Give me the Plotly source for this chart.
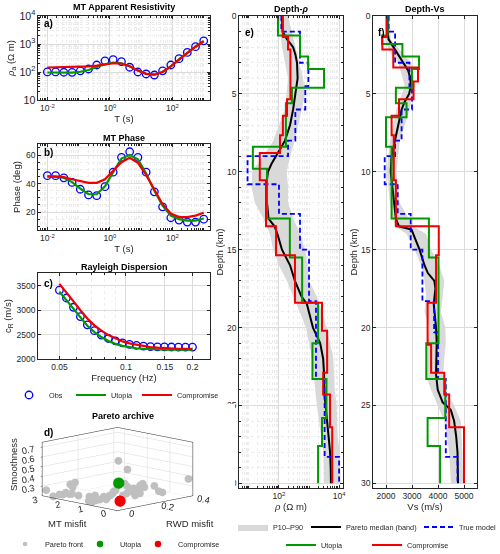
import math
import plotly.graph_objects as go

# ---------------- data ----------------
period_s = [0.01, 0.0183, 0.0336, 0.0616, 0.113, 0.207, 0.379, 0.695, 1.27, 2.34,
            4.28, 7.85, 14.4, 26.4, 48.3, 88.6, 162, 298, 546, 1000]
rho_obs = [101, 101, 98, 97, 110, 128, 178, 250, 275, 235,
           148, 100, 85, 78, 110, 178, 300, 500, 800, 1300]
rho_utopia = [96, 95, 94, 95, 102, 118, 150, 190, 215, 205,
              160, 112, 86, 80, 100, 160, 285, 480, 800, 1250]
rho_comp = [145, 147, 150, 152, 155, 160, 168, 185, 205, 200,
            160, 112, 86, 80, 100, 160, 285, 480, 800, 1250]

phase_obs = [45.5, 45.5, 44, 40.8, 36, 32, 31.5, 37.8, 48, 58.4,
             62.3, 58.4, 48, 34.2, 23.7, 16, 14.4, 13, 13, 15]
phase_utopia = [45, 45, 44, 41, 36.5, 32.5, 32.5, 38, 48, 57.5,
                60, 57, 47, 35, 24.5, 17.5, 15, 14, 14, 15.5]
phase_comp = [45, 45, 44.5, 43, 41.5, 40.5, 40.5, 43, 49, 55,
              58, 54.5, 46, 35.5, 25.5, 19, 16.5, 16.5, 17.5, 19.5]

freq_hz = [0.05, 0.0538, 0.0579, 0.0622, 0.0669, 0.0720, 0.0774, 0.0833, 0.0896, 0.0964,
           0.1037, 0.1115, 0.1200, 0.1291, 0.1388, 0.1493, 0.1606, 0.1728, 0.1859, 0.2]
cr_obs = [3410, 3250, 3060, 2870, 2700, 2580, 2490, 2420, 2370, 2330,
          2300, 2280, 2265, 2255, 2250, 2248, 2246, 2245, 2245, 2245]
cr_utopia = [3380, 3200, 3020, 2840, 2680, 2550, 2450, 2370, 2310, 2270,
             2240, 2220, 2210, 2200, 2195, 2192, 2190, 2190, 2190, 2190]
cr_comp = [3540, 3370, 3180, 3000, 2830, 2690, 2580, 2490, 2420, 2360,
           2320, 2290, 2265, 2245, 2232, 2222, 2215, 2210, 2208, 2207]

# Pareto archive (MT misfit, RWD misfit, smoothness)
pareto_mt = [3.2, 2.9, 2.7, 2.55, 2.35, 2.23, 2.02, 2.23, 2.1, 1.5, 1.4, 1.3, 1.38, 1.25,
             1.09, 1.0, 0.97, 0.85, 0.69, 0.61, 0.49, 0.40, 0.24, 2.5, 2.2, 1.55, 1.35,
             0.12, 0.04, 0.16, 0.2, 0.12, 0.08, 0.08, 0.12, 0.08, 0.04, 0.04, 0.04, 0.08,
             0.08, 0.02, 0.04, 0.12, 0.08, 0.08, 0.04]
pareto_rwd = [0.01, 0.01, 0.02, 0.02, 0.03, 0.02, 0.02, 0.03, 0.05, 0.03, 0.03, 0.03, 0.05, 0.04,
              0.04, 0.05, 0.06, 0.06, 0.05, 0.05, 0.04, 0.04, 0.03, 0.03, 0.03, 0.04, 0.03,
              0.02, 0.06, 0.06, 0.08, 0.08, 0.06, 0.04, 0.09, 0.10, 0.11, 0.12, 0.13, 0.15,
              0.16, 0.10, 0.13, 0.22, 0.24, 0.26, 0.40]
pareto_smooth = [0.26, 0.21, 0.235, 0.24, 0.25, 0.36, 0.39, 0.26, 0.24, 0.22, 0.22, 0.225, 0.275, 0.235,
                 0.25, 0.28, 0.25, 0.29, 0.31, 0.33, 0.36, 0.375, 0.43, 0.26, 0.33, 0.26, 0.22,
                 0.70, 0.60, 0.45, 0.41, 0.37, 0.35, 0.34, 0.36, 0.39, 0.35, 0.38, 0.41, 0.42,
                 0.38, 0.32, 0.33, 0.37, 0.31, 0.29, 0.38]
utopia_pt = [0.03, 0.01, 0.48]   # MT, RWD, smoothness
comp_pt = [0.05, 0.02, 0.29]

# Depth profiles
depth_bottom = 30.0
true_top = [0, 1.0, 3.0, 4.5, 6.0, 8.0, 9.0, 10.8, 12.7, 15.0, 18.3, 20.3, 23.3, 28.3]
true_rho = [120, 500, 950, 750, 350, 200, 9, 100, 500, 1000, 1700, 1700, 3300, 10000]
true_vs = [2100, 2350, 2900, 3000, 2600, 2350, 1950, 2450, 2950, 3400, 3850, 4000, 4300, 4750]

utopia_top = [0, 1.25, 1.8, 2.6, 3.4, 4.6, 5.6, 6.5, 8.4, 9.8, 13.0, 15.5, 18.4, 21.0, 23.3, 25.8, 27.6]
utopia_rho = [93, 500, 500, 930, 3150, 270, 170, 170, 13.5, 40, 230, 590, 2000, 1300, 3800, 2700, 2000]
utopia_vs = [2060, 1850, 2630, 3270, 3000, 2380, 2790, 2000, 2215, 2215, 3650, 4020, 4020, 3550, 4280, 3600, 4080]

comp_top = [0, 1.35, 2.15, 3.3, 4.2, 5.35, 6.4, 7.65, 8.8, 10.55, 13.5, 15.35, 18.4, 20.2, 21.1, 22.9, 24.3, 26.4]
comp_rho = [135, 200, 240, 240, 240, 185, 135, 108, 23, 37, 80, 340, 2700, 4000, 4000, 2950, 5000, 5900]
comp_vs = [2025, 1860, 2280, 3230, 3060, 2500, 2215, 2300, 2300, 2380, 4030, 3925, 3600, 3600, 3735, 4240, 4430, 5000]

rho_med_depth = [0, 0.5, 1.0, 1.5, 2.0, 2.5, 3, 4, 5, 6, 7, 8, 8.5, 9, 9.5, 10, 11, 12, 13, 13.5,
                 14, 15, 16, 17, 18, 18.5, 19, 20, 21, 22, 23, 24, 25, 26, 27, 28, 29, 30]
rho_median = [126, 126, 132, 186, 295, 355, 398, 417, 355, 295, 234, 158, 112, 79, 56, 43, 37, 40, 45, 71,
              89, 126, 234, 339, 562, 851, 1000, 1349, 2344, 2951, 3162, 3162, 3548, 3981, 4677, 5012, 5248, 5370]
rho_band_depth = [0, 2, 4, 5, 6, 7, 8, 9, 10, 11, 12, 13, 14, 15, 16, 17, 18, 20, 22, 24, 25, 27, 28, 30]
rho_p10 = [95, 126, 200, 182, 158, 100, 65, 30, 12.6, 12.3, 15.8, 30, 50, 65, 100, 182, 302, 794, 1259, 1585,
           1820, 2512, 3020, 3162]
rho_p90 = [200, 355, 631, 741, 562, 447, 339, 234, 182, 200, 200, 302, 501, 741, 891, 1000, 1820, 3890, 6457,
           7079, 8318, 8913, 10715, 11220]

vs_med_depth = [0, 1.0, 1.5, 2, 2.5, 3, 3.5, 4, 4.5, 5, 5.5, 6, 7, 8, 9, 10, 11, 12, 13, 13.5, 13.7, 14.5,
                15, 16, 16.5, 17, 17.5, 18.5, 20, 21, 22, 23, 24, 24.8, 25.3, 26, 27, 28, 30]
vs_median = [2063, 2063, 2100, 2280, 2470, 2660, 2850, 2940, 2950, 2890, 2720, 2600, 2470, 2320, 2215, 2180,
             2250, 2300, 2380, 2500, 2977, 3170, 3290, 3480, 3610, 3860, 3900, 3837, 3925, 3950, 3925, 3925,
             3990, 4180, 4495, 4620, 4700, 4750, 4770]
vs_band_depth = [0, 1.5, 2.5, 3, 4.5, 6, 7, 8, 10, 12, 13.5, 14, 15, 16, 17, 18, 19, 20, 21, 22, 23, 24, 25,
                 26, 28, 30]
vs_p10 = [1960, 1960, 2200, 2470, 2720, 2400, 2280, 2150, 2025, 2150, 2340, 2790, 3100, 3350, 3480, 3545,
          3480, 3670, 3610, 3545, 3520, 3735, 3990, 4240, 4430, 4500]
vs_p90 = [2150, 2180, 2700, 2975, 3100, 2910, 2720, 2530, 2400, 2530, 3040, 3545, 3735, 4050, 4240, 4180,
          4115, 4280, 4300, 4240, 4200, 4280, 4620, 4875, 4940, 4965]

# ---------------- style ----------------
FONT = "Liberation Sans"
AX = "#262626"
GRID = "#dcdcdc"
MGRID = "#ececec"
BLUE = "#0000ff"
GREEN = "rgb(0,153,0)"
RED = "rgb(240,0,0)"
BAND = "rgb(217,217,217)"
GRAYPT = "rgb(191,191,191)"
TICK_SIZE = 8.5
TITLE_SIZE = 9.5


def step_xy(tops, vals, bottom):
    return list(vals) + [vals[-1]], list(tops) + [bottom]


fig = go.Figure()

# ---- panels a/b/c ----
panels = [("x", "y", rho_obs, rho_utopia, rho_comp, period_s),
          ("x2", "y2", phase_obs, phase_utopia, phase_comp, period_s),
          ("x3", "y3", cr_obs, cr_utopia, cr_comp, freq_hz)]
for i, (xa, ya, obs, uto, comp, xs) in enumerate(panels):
    first = i == 0
    fig.add_trace(go.Scatter(x=xs, y=obs, mode="markers", name="Obs", xaxis=xa, yaxis=ya,
                             marker=dict(symbol="circle-open", size=7.5, color=BLUE, line=dict(width=1.3)),
                             showlegend=first, legend="legend"))
    fig.add_trace(go.Scatter(x=xs, y=uto, mode="lines", name="Utopia", xaxis=xa, yaxis=ya,
                             line=dict(color=GREEN, width=2.2), showlegend=first, legend="legend2"))
    fig.add_trace(go.Scatter(x=xs, y=comp, mode="lines", name="Compromise", xaxis=xa, yaxis=ya,
                             line=dict(color=RED, width=2.2), showlegend=first, legend="legend3"))

# ---- panel d (3D) ----
fig.add_trace(go.Scatter3d(x=pareto_rwd, y=pareto_mt, z=pareto_smooth, mode="markers", name="Pareto front",
                           marker=dict(size=4.5, color=GRAYPT, line=dict(width=0)), legend="legend4",
                           scene="scene"))
fig.add_trace(go.Scatter3d(x=[utopia_pt[1]], y=[utopia_pt[0]], z=[utopia_pt[2]], mode="markers", name="Utopia",
                           marker=dict(size=6.5, color=GREEN, line=dict(width=0)), legend="legend5", scene="scene"))
fig.add_trace(go.Scatter3d(x=[comp_pt[1]], y=[comp_pt[0]], z=[comp_pt[2]], mode="markers", name="Compromise",
                           marker=dict(size=6.5, color=RED, line=dict(width=0)), legend="legend6", scene="scene"))

# ---- panels e/f ----
prof = [("x4", "y4", rho_band_depth, rho_p10, rho_p90, rho_med_depth, rho_median, true_rho, utopia_rho, comp_rho),
        ("x5", "y5", vs_band_depth, vs_p10, vs_p90, vs_med_depth, vs_median, true_vs, utopia_vs, comp_vs)]
for i, (xa, ya, bd, p10, p90, md, med, tv, uv, cv) in enumerate(prof):
    first = i == 0
    fig.add_trace(go.Scatter(x=list(p10) + list(p90)[::-1], y=list(bd) + list(bd)[::-1], fill="toself",
                             fillcolor=BAND, line=dict(width=0, color=BAND), mode="lines", name="P10–P90",
                             xaxis=xa, yaxis=ya, showlegend=first, legend="legend7"))
    fig.add_trace(go.Scatter(x=med, y=md, mode="lines", name="Pareto median (band)", xaxis=xa, yaxis=ya,
                             line=dict(color="black", width=2), showlegend=first, legend="legend8"))
    sx, sy = step_xy(true_top, tv, depth_bottom)
    fig.add_trace(go.Scatter(x=sx, y=sy, mode="lines", line_shape="vh", name="True model", xaxis=xa, yaxis=ya,
                             line=dict(color=BLUE, width=1.8, dash="5px,3px"), showlegend=first, legend="legend9"))
    sx, sy = step_xy(utopia_top, uv, depth_bottom)
    fig.add_trace(go.Scatter(x=sx, y=sy, mode="lines", line_shape="vh", name="Utopia", xaxis=xa, yaxis=ya,
                             line=dict(color=GREEN, width=2), showlegend=first, legend="legend10"))
    sx, sy = step_xy(comp_top, cv, depth_bottom)
    fig.add_trace(go.Scatter(x=sx, y=sy, mode="lines", line_shape="vh", name="Compromise", xaxis=xa, yaxis=ya,
                             line=dict(color=RED, width=2), showlegend=first, legend="legend11"))


def ax(**kw):
    d = dict(showline=True, linecolor=AX, linewidth=0.8, mirror="allticks", ticks="inside", ticklen=3,
             tickcolor=AX, tickwidth=0.8, tickfont=dict(size=TICK_SIZE, color=AX, family=FONT), showgrid=True,
             gridcolor=GRID, gridwidth=0.6, zeroline=False,
             title_font=dict(size=TITLE_SIZE, color=AX, family=FONT), title_standoff=3, automargin=False)
    d.update(kw)
    return d


def minor(dtick, grid=True):
    return dict(dtick=dtick, ticks="inside", ticklen=2, tickcolor=AX, showgrid=grid, gridcolor=MGRID,
                griddash="dot", gridwidth=0.6)


XD = [0.076, 0.42]
T_TICKS = dict(tickvals=[0.01, 1, 100], ticktext=["10<sup>-2</sup>", "10<sup>0</sup>", "10<sup>2</sup>"])
layout = dict(
    width=500, height=554, margin=dict(l=0, r=0, t=0, b=0, autoexpand=False), paper_bgcolor="white",
    plot_bgcolor="white", font=dict(family=FONT, color=AX, size=9), showlegend=True, hovermode=False,
    xaxis=ax(domain=XD, anchor="y", type="log", range=[-2.3, 3.2], title_text="T (s)", minor=minor("D1"),
             **T_TICKS),
    yaxis=ax(domain=[0.8195, 0.9711], anchor="x", type="log", range=[1, 4], dtick=1, exponentformat="power",
             title_text="<i>ρ</i><sub>a</sub> (Ω m)", minor=minor("D1")),
    xaxis2=ax(domain=XD, anchor="y2", type="log", range=[-2.3, 3.2], title_text="T (s)", minor=minor("D1"),
              **T_TICKS),
    yaxis2=ax(domain=[0.5848, 0.740], anchor="x2", range=[7.4, 67.7], tickvals=[20, 40, 60],
              title_text="Phase (deg)", minor=minor(5)),
    xaxis3=ax(domain=XD, anchor="y3", type="log", range=[math.log10(0.04), math.log10(0.24)],
              tickvals=[0.05, 0.1, 0.15, 0.2], ticktext=["0.05", "0.1", "0.15", "0.2"],
              title_text="Frequency (Hz)", minor=minor("D1")),
    yaxis3=ax(domain=[0.352, 0.507], anchor="x3", range=[2000, 3760], dtick=500,
              title_text="c<sub>R</sub> (m/s)"),
    xaxis4=ax(domain=[0.478, 0.686], anchor="y4", type="log", range=[0.67, 4.13],
              tickvals=[100, 10000], ticktext=["10<sup>2</sup>", "10<sup>4</sup>"],
              title_text="<i>ρ</i> (Ω m)", minor=minor("D1")),
    yaxis4=ax(domain=[0.1191, 0.9711], anchor="x4", range=[30.3, 0], dtick=5, title_text="Depth (km)",
              minor=minor(1), title_standoff=1),
    xaxis5=ax(domain=[0.746, 0.954], anchor="y5", range=[1500, 5500], dtick=1000, title_text="Vs (m/s)"),
    yaxis5=ax(domain=[0.1191, 0.9711], anchor="x5", range=[30.3, 0], dtick=5, title_text="Depth (km)",
              title_standoff=1),
)

sax = dict(showbackground=False, gridcolor="#d9d9d9", gridwidth=1, showline=True, linecolor=AX, linewidth=1,
           mirror=True, ticks="outside", ticklen=2, tickcolor=AX,
           tickfont=dict(size=10.5, color=AX, family=FONT),
           zeroline=False, showspikes=False, title=dict(text=""))
layout["scene"] = dict(
    domain=dict(x=[0.0, 0.47], y=[0.035, 0.27]),
    xaxis=dict(sax, range=[0, 0.42], tickvals=[0, 0.2, 0.4], ticktext=["0", "0.2", "0.4"]),
    yaxis=dict(sax, range=[0, 3.3], tickvals=[0, 1, 2, 3]),
    zaxis=dict(sax, range=[0.2, 0.75], tickvals=[0.3, 0.4, 0.5, 0.6, 0.7]),
    aspectmode="manual", aspectratio=dict(x=1.64, y=1.64, z=0.84),
    camera=dict(eye=dict(x=-0.95, y=-0.95, z=0.27), projection=dict(type="orthographic")),
    bgcolor="white",
)

leg = dict(orientation="h", xanchor="left", yanchor="middle", font=dict(size=7.3, color=AX, family=FONT),
           bgcolor="rgba(0,0,0,0)", itemwidth=30, tracegroupgap=0, borderwidth=0)
legend_pos = {"legend": (9, 395), "legend2": (71, 395), "legend3": (137, 395),
              "legend4": (5, 544), "legend5": (80, 544), "legend6": (138, 544),
              "legend7": (233, 527), "legend8": (306, 527), "legend9": (419, 527),
              "legend10": (281, 545), "legend11": (367, 545)}
for k, (px, py) in legend_pos.items():
    layout[k] = dict(leg, x=px / 500, y=1 - py / 554)
for k in ("legend4", "legend5", "legend6"):
    layout[k]["itemsizing"] = "trace"

fig.update_layout(**layout)


def note(text, px, py, size, color=AX, angle=0, anchor="center"):
    return dict(text=text, x=px / 500, y=1 - py / 554, xref="paper", yref="paper", showarrow=False,
                textangle=angle, xanchor=anchor, yanchor="middle", font=dict(size=size, color=color, family=FONT))


ann = []
for t, px, py in [("MT Apparent Resistivity", 124, 7), ("MT Phase", 124, 138), ("Rayleigh Dispersion", 124, 267),
                  ("Pareto archive", 123, 416), ("Depth-<i>ρ</i>", 291, 9), ("Depth-Vs", 425, 9)]:
    ann.append(note("<b>%s</b>" % t, px, py, 9, color="black"))
for t, px, py in [("a)", 42, 24), ("b)", 42, 153), ("c)", 42, 283), ("d)", 42, 432), ("e)", 243, 33),
                  ("f)", 376, 32)]:
    ann.append(note("<b>%s</b>" % t, px, py, 10, color="black", anchor="left"))
ann.append(note("MT misfit", 67, 523, TITLE_SIZE))
ann.append(note("RWD misfit", 190, 523, TITLE_SIZE))
ann.append(note("Smoothness", 13, 465, TITLE_SIZE, angle=-90))
fig.update_layout(annotations=ann)

fig.write_html("out.html", config=dict(displayModeBar=False))
